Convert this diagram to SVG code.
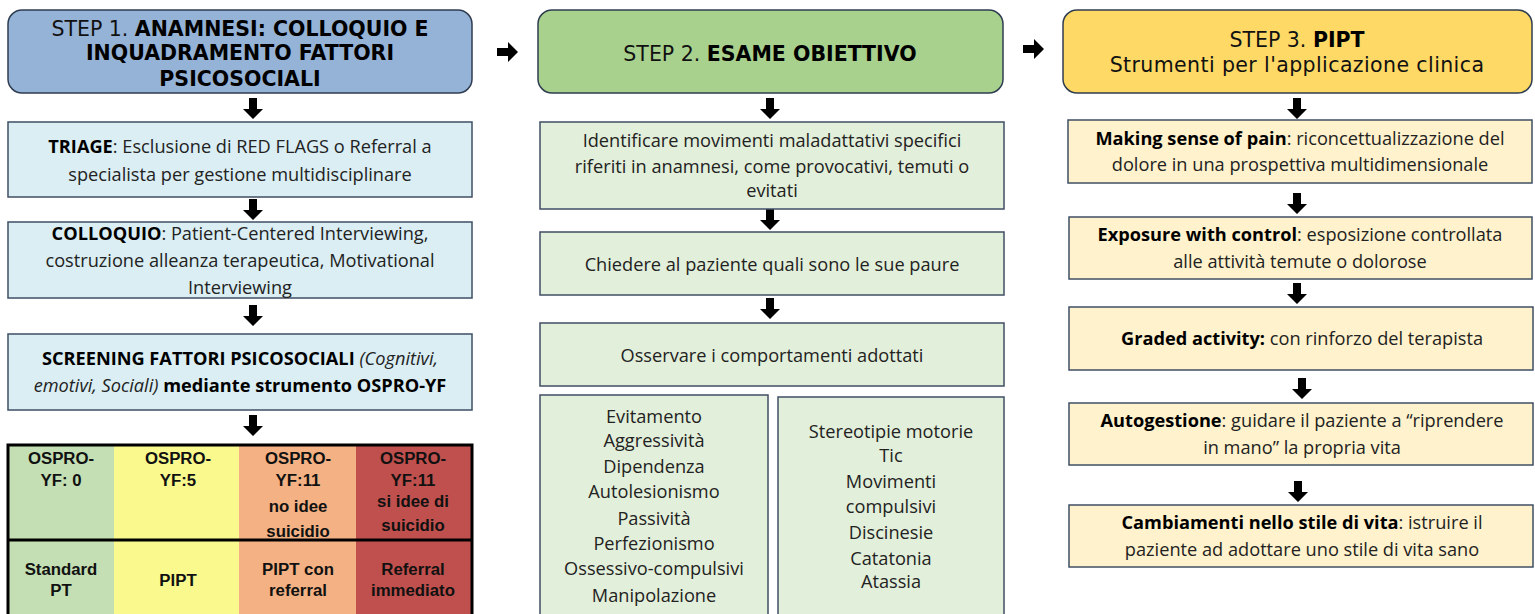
<svg xmlns="http://www.w3.org/2000/svg" width="1535" height="614" viewBox="0 0 1535 614">
<style>
.hdr{stroke:#2F3D50;stroke-width:1.5}
.bx{stroke:#3F4F63;stroke-width:1.5}
.blue{fill:#DAEEF3}
.green{fill:#E2EFDA}
.yel{fill:#FFF2CC}
.ht{font-family:"DejaVu Sans","Open Sans",sans-serif;font-size:20.5px;fill:#111;text-anchor:middle}
.t{font-family:"Open Sans","Liberation Sans",sans-serif;font-size:18.2px;fill:#222;text-anchor:middle}
.tb{font-family:"Liberation Sans",Arial,sans-serif;font-size:16.8px;font-weight:bold;fill:#111;text-anchor:middle}
.b{font-weight:bold;fill:#000}
.i{font-style:italic}
.arr{fill:#000}
</style>
<defs>
<path id="ad" d="M-4,0 h8 v11 h6 l-10,10 l-10,-10 h6 z"/>
<path id="ar" d="M0,-4 h11 v-6 l10,10 l-10,10 v-6 h-11 z"/>
</defs>

<g id="connectors" class="arr">
<use href="#ad" x="253" y="98"/>
<use href="#ad" x="253" y="199"/>
<use href="#ad" x="253" y="305"/>
<use href="#ad" x="253" y="415"/>
<use href="#ar" x="497" y="52"/>
<use href="#ad" x="770" y="98"/>
<use href="#ad" x="770" y="209"/>
<use href="#ad" x="770" y="298"/>
<use href="#ar" x="1023" y="49"/>
<use href="#ad" x="1297" y="98"/>
<use href="#ad" x="1297" y="193"/>
<use href="#ad" x="1297" y="283"/>
<use href="#ad" x="1302" y="378"/>
<use href="#ad" x="1298" y="481"/>
</g>

<g id="step1">
<rect class="hdr" x="8" y="10" width="464" height="83" rx="14" fill="#95B3D7"/>
<text class="ht" x="240" y="36">STEP 1. <tspan class="b">ANAMNESI: COLLOQUIO E</tspan></text>
<text class="ht b" x="240" y="60">INQUADRAMENTO FATTORI</text>
<text class="ht b" x="240" y="86">PSICOSOCIALI</text>
</g>

<g id="triage">
<rect class="bx blue" x="8" y="122" width="464" height="75"/>
<text class="t" x="240" y="153"><tspan class="b">TRIAGE</tspan>: Esclusione di RED FLAGS o Referral a</text>
<text class="t" x="240" y="181">specialista per gestione multidisciplinare</text>
</g>

<g id="colloquio">
<rect class="bx blue" x="8" y="222" width="464" height="76"/>
<text class="t" x="240" y="240"><tspan class="b">COLLOQUIO</tspan>: Patient-Centered Interviewing,</text>
<text class="t" x="240" y="267">costruzione alleanza terapeutica, Motivational</text>
<text class="t" x="240" y="294">Interviewing</text>
</g>

<g id="screening">
<rect class="bx blue" x="8" y="334" width="464" height="76"/>
<text class="t" x="240" y="365"><tspan class="b">SCREENING FATTORI PSICOSOCIALI</tspan> <tspan class="i">(Cognitivi,</tspan></text>
<text class="t" x="240" y="392"><tspan class="i">emotivi, Sociali)</tspan> <tspan class="b">mediante strumento OSPRO-YF</tspan></text>
</g>

<g id="ospro-table">
<rect x="8" y="445" width="106" height="175" fill="#C4DFB3"/>
<rect x="114" y="445" width="125" height="175" fill="#F9F98E"/>
<rect x="239" y="445" width="117" height="175" fill="#F4B183"/>
<rect x="356" y="445" width="116" height="175" fill="#C0504D"/>
<path d="M8,620 V445 H472 V620 M8,540 H472" fill="none" stroke="#000" stroke-width="3"/>
<text class="tb" x="61" y="464">OSPRO-</text>
<text class="tb" x="61" y="486">YF: 0</text>
<text class="tb" x="178" y="464">OSPRO-</text>
<text class="tb" x="178" y="486">YF:5</text>
<text class="tb" x="298" y="464">OSPRO-</text>
<text class="tb" x="298" y="486">YF:11</text>
<text class="tb" x="298" y="512">no idee</text>
<text class="tb" x="298" y="537">suicidio</text>
<text class="tb" x="413" y="464">OSPRO-</text>
<text class="tb" x="413" y="486">YF:11</text>
<text class="tb" x="413" y="507">si idee di</text>
<text class="tb" x="413" y="531">suicidio</text>
<text class="tb" x="61" y="575">Standard</text>
<text class="tb" x="61" y="596">PT</text>
<text class="tb" x="178" y="586">PIPT</text>
<text class="tb" x="298" y="575">PIPT con</text>
<text class="tb" x="298" y="596">referral</text>
<text class="tb" x="413" y="575">Referral</text>
<text class="tb" x="413" y="596">immediato</text>
</g>

<g id="step2">
<rect class="hdr" x="538" y="10" width="465" height="83" rx="14" fill="#A9D18E"/>
<text class="ht" x="770" y="61">STEP 2. <tspan class="b">ESAME OBIETTIVO</tspan></text>
</g>

<g id="identificare">
<rect class="bx green" x="540" y="122" width="464" height="87"/>
<text class="t" x="772" y="147">Identificare movimenti maladattativi specifici</text>
<text class="t" x="772" y="173">riferiti in anamnesi, come provocativi, temuti o</text>
<text class="t" x="772" y="197">evitati</text>
</g>

<g id="chiedere">
<rect class="bx green" x="540" y="232" width="464" height="63"/>
<text class="t" x="772" y="271">Chiedere al paziente quali sono le sue paure</text>
</g>

<g id="osservare">
<rect class="bx green" x="540" y="323" width="464" height="63"/>
<text class="t" x="772" y="362">Osservare i comportamenti adottati</text>
</g>

<g id="comportamenti-1">
<rect class="bx green" x="540" y="395" width="228" height="225"/>
<text class="t" x="654" y="423">Evitamento</text>
<text class="t" x="654" y="447">Aggressività</text>
<text class="t" x="654" y="473">Dipendenza</text>
<text class="t" x="654" y="498">Autolesionismo</text>
<text class="t" x="654" y="525">Passività</text>
<text class="t" x="654" y="550">Perfezionismo</text>
<text class="t" x="654" y="575">Ossessivo-compulsivi</text>
<text class="t" x="654" y="602">Manipolazione</text>
</g>

<g id="comportamenti-2">
<rect class="bx green" x="778" y="397" width="226" height="223"/>
<text class="t" x="891" y="438">Stereotipie motorie</text>
<text class="t" x="891" y="462">Tic</text>
<text class="t" x="891" y="488">Movimenti</text>
<text class="t" x="891" y="513">compulsivi</text>
<text class="t" x="891" y="539">Discinesie</text>
<text class="t" x="891" y="565">Catatonia</text>
<text class="t" x="891" y="588">Atassia</text>
</g>

<g id="step3">
<rect class="hdr" x="1063" y="10" width="469" height="83" rx="14" fill="#FFD966"/>
<text class="ht" x="1297" y="47">STEP 3. <tspan class="b">PIPT</tspan></text>
<text class="ht" x="1297" y="72" letter-spacing="0.4">Strumenti per l'applicazione clinica</text>
</g>

<g id="making-sense">
<rect class="bx yel" x="1068" y="120" width="464" height="63"/>
<text class="t" x="1300" y="145"><tspan class="b">Making sense of pain</tspan>: riconcettualizzazione del</text>
<text class="t" x="1300" y="171">dolore in una prospettiva multidimensionale</text>
</g>

<g id="exposure">
<rect class="bx yel" x="1069" y="217" width="463" height="62"/>
<text class="t" x="1300" y="241"><tspan class="b">Exposure with control</tspan>: esposizione controllata</text>
<text class="t" x="1300" y="268">alle attività temute o dolorose</text>
</g>

<g id="graded">
<rect class="bx yel" x="1069" y="307" width="464" height="63"/>
<text class="t" x="1302" y="345"><tspan class="b">Graded activity:</tspan> con rinforzo del terapista</text>
</g>

<g id="autogestione">
<rect class="bx yel" x="1069" y="403" width="464" height="62"/>
<text class="t" x="1302" y="427"><tspan class="b">Autogestione</tspan>: guidare il paziente a “riprendere</text>
<text class="t" x="1302" y="454">in mano” la propria vita</text>
</g>

<g id="stile-vita">
<rect class="bx yel" x="1069" y="505" width="464" height="62"/>
<text class="t" x="1302" y="529"><tspan class="b">Cambiamenti nello stile di vita</tspan>: istruire il</text>
<text class="t" x="1302" y="556">paziente ad adottare uno stile di vita sano</text>
</g>
</svg>
